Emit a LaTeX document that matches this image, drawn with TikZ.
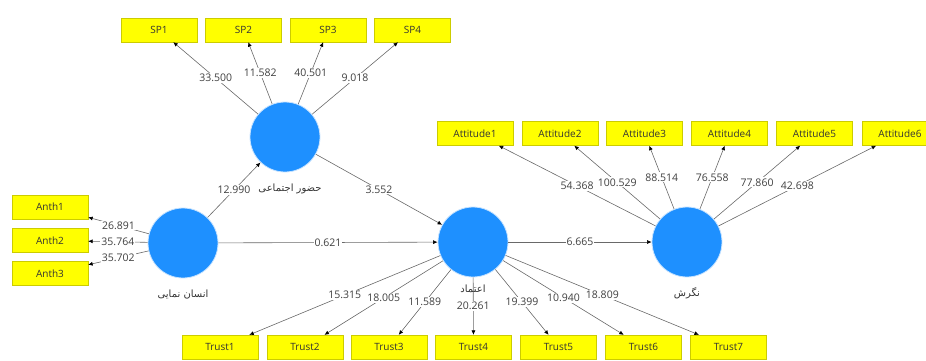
\documentclass[tikz,border=0pt]{standalone}
\usepackage{fontspec}
\setmainfont{Open Sans}
\newfontfamily\arabicfont[Script=Arabic]{DejaVu Sans}
\TeXXeTstate=1
\usetikzlibrary{arrows.meta}
\definecolor{lvblue}{RGB}{30,144,255}
\definecolor{mvyellow}{RGB}{255,255,0}
\definecolor{plsgray}{RGB}{105,105,105}
\tikzset{
  lv/.style={circle, fill=lvblue, draw=lvblue!25, line width=0.8pt, minimum size=70pt, inner sep=0pt},
  mv/.style={rectangle, fill=mvyellow, draw=mvyellow!80!black, line width=0.3pt,
    minimum width=76pt, minimum height=24pt, inner sep=0pt, text=black!80,
    font=\fontsize{10}{11}\selectfont},
  lvname/.style={font=\arabicfont\fontsize{10}{11}\selectfont, text=black!80},
  coef/.style={fill=white, inner sep=1pt, text=black!75, font=\fontsize{10.5}{11}\selectfont},
  plsline/.style={draw=plsgray, line width=0.6pt, -{Latex[length=4.5pt,width=4pt,color=black]}},
}
\begin{document}
\begin{tikzpicture}[x=1pt, y=-1pt]
\useasboundingbox (0,0) rectangle (926,360);
% latent variables
\node[lv] (SP_0) at (285,137) {};
\node[lv] (AN_0) at (183,243) {};
\node[lv] (TR_0) at (473,242) {};
\node[lv] (AT_0) at (687,242) {};
% indicators
\node[mv] (SP_1) at (159,30) {SP1};
\node[mv] (SP_2) at (243.5,30) {SP2};
\node[mv] (SP_3) at (328,30) {SP3};
\node[mv] (SP_4) at (412.5,30) {SP4};
\node[mv] (AN_1) at (50,207) {Anth1};
\node[mv] (AN_2) at (50,240.5) {Anth2};
\node[mv] (AN_3) at (50,273.5) {Anth3};
\node[mv] (AT_1) at (475,133.5) {Attitude1};
\node[mv] (AT_2) at (560,133.5) {Attitude2};
\node[mv] (AT_3) at (644.5,133.5) {Attitude3};
\node[mv] (AT_4) at (729.5,133.5) {Attitude4};
\node[mv] (AT_5) at (814.5,133.5) {Attitude5};
\node[mv] (AT_6) at (900,133.5) {Attitude6};
\node[mv] (TR_1) at (220,347) {Trust1};
\node[mv] (TR_2) at (305,347) {Trust2};
\node[mv] (TR_3) at (389,347) {Trust3};
\node[mv] (TR_4) at (473.5,347) {Trust4};
\node[mv] (TR_5) at (558.5,347) {Trust5};
\node[mv] (TR_6) at (643.5,347) {Trust6};
\node[mv] (TR_7) at (728.5,347) {Trust7};
% outer loadings
\draw[plsline] (SP_0) -- (SP_1) node[midway, coef] {33.500};
\draw[plsline] (SP_0) -- (SP_2) node[midway, coef] {11.582};
\draw[plsline] (SP_0) -- (SP_3) node[midway, coef] {40.501};
\draw[plsline] (SP_0) -- (SP_4) node[midway, coef] {9.018};
\draw[plsline] (AN_0) -- (AN_1) node[midway, coef] {26.891};
\draw[plsline] (AN_0) -- (AN_2) node[midway, coef] {35.764};
\draw[plsline] (AN_0) -- (AN_3) node[midway, coef] {35.702};
\draw[plsline] (AT_0) -- (AT_1) node[midway, coef] {54.368};
\draw[plsline] (AT_0) -- (AT_2) node[midway, coef] {100.529};
\draw[plsline] (AT_0) -- (AT_3) node[midway, coef] {88.514};
\draw[plsline] (AT_0) -- (AT_4) node[midway, coef] {76.558};
\draw[plsline] (AT_0) -- (AT_5) node[midway, coef] {77.860};
\draw[plsline] (AT_0) -- (AT_6) node[midway, coef] {42.698};
\draw[plsline] (TR_0) -- (TR_1) node[midway, coef] {15.315};
\draw[plsline] (TR_0) -- (TR_2) node[midway, coef] {18.005};
\draw[plsline] (TR_0) -- (TR_3) node[midway, coef] {11.589};
\draw[plsline] (TR_0) -- (TR_4) node[midway, coef] {20.261};
\draw[plsline] (TR_0) -- (TR_5) node[midway, coef] {19.399};
\draw[plsline] (TR_0) -- (TR_6) node[midway, coef] {10.940};
\draw[plsline] (TR_0) -- (TR_7) node[midway, coef] {18.809};
% inner model
\draw[plsline] (AN_0) -- (SP_0) node[midway, coef] {12.990};
\draw[plsline] (SP_0) -- (TR_0) node[midway, coef] {3.552};
\draw[plsline] (AN_0) -- (TR_0) node[midway, coef] {0.621};
\draw[plsline] (TR_0) -- (AT_0) node[midway, coef] {6.665};
% construct names
\node[lvname] (SP_name) at (290,189) {\beginR حضور اجتماعی\endR};
\node[lvname] (AN_name) at (183,295) {\beginR انسان نمایی\endR};
\node[lvname] (TR_name) at (473,289) {\beginR اعتماد\endR};
\node[lvname] (AT_name) at (687,293) {\beginR نگرش\endR};
\end{tikzpicture}
\end{document}
